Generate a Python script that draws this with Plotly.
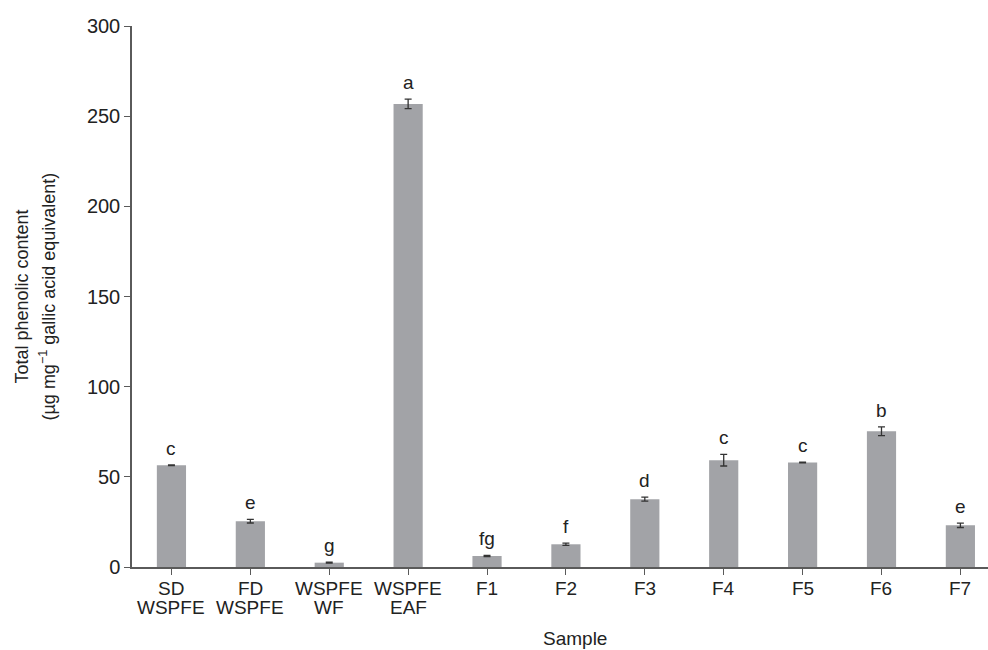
import plotly.graph_objects as go

# Sample groups and their mean total phenolic content (µg GAE per mg)
samples = ["SD\nWSPFE", "FD\nWSPFE", "WSPFE\nWF", "WSPFE\nEAF",
           "F1", "F2", "F3", "F4", "F5", "F6", "F7"]
tpc_mean = [56.4, 25.4, 2.4, 256.8, 6.1, 12.6, 37.6, 59.2, 57.9, 75.3, 23.1]
tpc_sd = [0.2, 1.0, 0.3, 2.6, 0.3, 0.6, 1.1, 3.2, 0.2, 2.4, 1.2]
sig_letters = ["c", "e", "g", "a", "fg", "f", "d", "c", "c", "b", "e"]
y_ticks = [0, 50, 100, 150, 200, 250, 300]
y_title_lines = ["Total phenolic content",
                 "(µg mg<sup>−1</sup> gallic acid equivalent)"]

font_family = "Liberation Sans, Arial, sans-serif"
text_color = "#222222"
axis_color = "#5a5a5a"

W, H = 988, 650
L, R, T, B = 132, 0, 26, 83
plot_w = W - L - R
plot_h = H - T - B

fig = go.Figure()
fig.add_trace(go.Bar(
    x=list(range(len(samples))),
    y=tpc_mean,
    width=0.37,
    marker=dict(color="#a2a3a7", line=dict(width=0)),
    error_y=dict(type="data", array=tpc_sd, visible=True,
                 color="#333333", thickness=1.3, width=3.5),
    showlegend=False,
))

# Significance letters above each bar
for i, (m, s, lab) in enumerate(zip(tpc_mean, tpc_sd, sig_letters)):
    fig.add_annotation(x=i, y=m + s, text=lab, showarrow=False,
                       yanchor="bottom", yshift=4,
                       font=dict(family=font_family, size=19, color=text_color))

# Category labels, one annotation per line for tight line spacing
for i, name in enumerate(samples):
    for k, line in enumerate(name.split("\n")):
        fig.add_annotation(x=i, xref="x", y=0, yref="paper", text=line,
                           showarrow=False, yanchor="middle",
                           yshift=-(21 + 19.5 * k),
                           font=dict(family=font_family, size=19, color=text_color))

# x-axis title
fig.add_annotation(x=(575 - L) / plot_w, xref="paper", y=0, yref="paper",
                   text="Sample", showarrow=False, yanchor="middle",
                   yshift=-71, font=dict(family=font_family, size=19, color=text_color))

# y-axis title, two rotated lines
for k, (line, px) in enumerate(zip(y_title_lines, [21, 48])):
    fig.add_annotation(x=(px - L) / plot_w, xref="paper", y=0.5, yref="paper",
                       text=line, showarrow=False, textangle=-90,
                       xanchor="center", yanchor="middle",
                       font=dict(family=font_family, size=18, color=text_color))

fig.update_layout(
    width=W, height=H,
    margin=dict(l=L, r=R, t=T, b=B),
    plot_bgcolor="white", paper_bgcolor="white",
    font=dict(family=font_family, size=19, color=text_color),
)
fig.update_xaxes(
    tickmode="array", tickvals=list(range(len(samples))),
    showticklabels=False,
    range=[-0.5, 10.35],
    showline=True, linecolor=axis_color, linewidth=1.5,
    ticks="outside", ticklen=6, tickcolor=axis_color, tickwidth=1.2,
    tickson="boundaries",
    showgrid=False, zeroline=False,
)
fig.update_yaxes(
    range=[0, 300], tickvals=y_ticks,
    showline=True, linecolor=axis_color, linewidth=1.5,
    ticks="outside", ticklen=6, tickcolor=axis_color, tickwidth=1.2,
    showgrid=False, zeroline=False,
    tickfont=dict(size=20, color=text_color),
)

fig.write_html("out.html")
